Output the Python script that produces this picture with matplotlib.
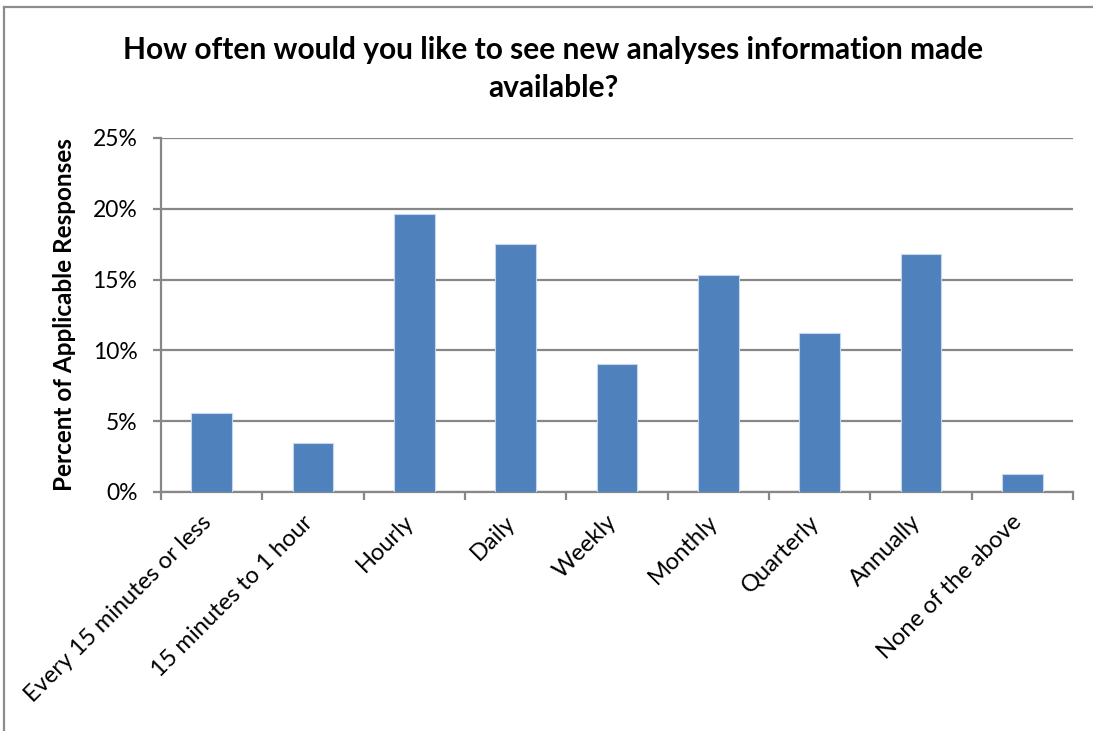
import matplotlib.pyplot as plt
from matplotlib.lines import Line2D
from matplotlib.ticker import FuncFormatter, FixedLocator
from matplotlib.transforms import ScaledTranslation
import numpy as np

plt.rcParams['font.family'] = ['Lato', 'DejaVu Sans']

# Survey data
categories = ['Every 15 minutes or less', '15 minutes to 1 hour', 'Hourly', 'Daily',
              'Weekly', 'Monthly', 'Quarterly', 'Annually', 'None of the above']
percent = [5.6, 3.45, 19.6, 17.5, 9.05, 15.35, 11.2, 16.8, 1.3]
y_ticks = [0, 5, 10, 15, 20, 25]

W, H = 1093, 731
fig = plt.figure(figsize=(W / 100, H / 100), dpi=100)
ax = fig.add_axes([161 / W, 1 - 492 / H, (1073 - 161) / W, (492 - 138) / H])

x = np.arange(len(categories))
ax.bar(x, percent, width=0.4, color='#4F81BD', edgecolor='#C6D6EC', linewidth=0.8, zorder=3)

ax.set_xlim(-0.5, len(categories) - 0.5)
ax.set_ylim(0, 25)
ax.set_yticks(y_ticks)
ax.yaxis.set_major_formatter(FuncFormatter(lambda v, p: f'{v:.0f}%'))
ax.grid(axis='y', color='#878787', linewidth=1.6, zorder=0)

# category ticks sit between bars, labels under the bars
ax.xaxis.set_major_locator(FixedLocator(np.arange(-0.5, len(categories), 1.0)))
ax.xaxis.set_major_formatter(FuncFormatter(lambda v, p: ''))
ax.set_xticks(x, minor=True)
ax.set_xticklabels(categories, minor=True, rotation=45, ha='right',
                   rotation_mode='anchor', fontsize=17)
ax.tick_params(axis='x', which='minor', length=0, pad=14)
ax.tick_params(axis='x', which='major', length=6, width=1.6, color='#878787', direction='out')
ax.tick_params(axis='y', length=6, width=1.6, color='#878787', labelsize=16.5, pad=11)
for lab in ax.get_xticklabels(minor=True):
    lab.set_transform(lab.get_transform() + ScaledTranslation(-0.11, 0, fig.dpi_scale_trans))

for s in ['top', 'right']:
    ax.spines[s].set_visible(False)
for s in ['left', 'bottom']:
    ax.spines[s].set_color('#878787')
    ax.spines[s].set_linewidth(1.6)

ax.set_ylabel('Percent of Applicable Responses', fontsize=17.5, fontweight='bold', labelpad=12)
fig.text(553 / W, 1 - 69 / H, 'How often would you like to see new analyses information made\navailable?',
         ha='center', va='center', fontsize=21.5, fontweight='bold', linespacing=1.45)

# chart frame (only left and top edges visible)
fig.add_artist(Line2D([4 / W, 4 / W], [0, 1 - 7 / H], color='#8C8C8C', linewidth=1.6))
fig.add_artist(Line2D([4 / W, 1], [1 - 7 / H, 1 - 7 / H], color='#8C8C8C', linewidth=1.6))

fig.savefig('out.png', dpi=100)
